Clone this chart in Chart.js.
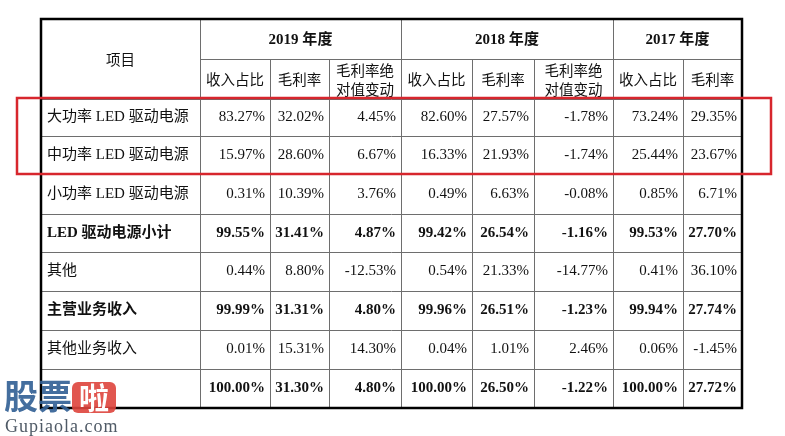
<!DOCTYPE html>
<html><head><meta charset="utf-8">
<script src="https://cdn.jsdelivr.net/npm/chart.js@4.4.1/dist/chart.umd.min.js"></script>
<style>html,body{margin:0;padding:0;background:#fff;}#wrap{width:785px;height:436px;position:relative;}</style>
</head><body><div id="wrap"><canvas id="c"></canvas></div>
<script>
// ---- data ----
const rowLabels = ['大功率 LED 驱动电源','中功率 LED 驱动电源','小功率 LED 驱动电源','LED 驱动电源小计','其他','主营业务收入','其他业务收入',''];
const boldRows = [false,false,false,true,false,true,false,true];
const yearHeaders = ['2019 年度','2018 年度','2017 年度'];
const subHeaders = ['收入占比','毛利率','毛利率绝\n对值变动','收入占比','毛利率','毛利率绝\n对值变动','收入占比','毛利率'];
const itemHeader = '项目';
const share2019  = [83.27,15.97,0.31,99.55,0.44,99.99,0.01,100.00];
const margin2019 = [32.02,28.60,10.39,31.41,8.80,31.31,15.31,31.30];
const change2019 = [4.45,6.67,3.76,4.87,-12.53,4.80,14.30,4.80];
const share2018  = [82.60,16.33,0.49,99.42,0.54,99.96,0.04,100.00];
const margin2018 = [27.57,21.93,6.63,26.54,21.33,26.51,1.01,26.50];
const change2018 = [-1.78,-1.74,-0.08,-1.16,-14.77,-1.23,2.46,-1.22];
const share2017  = [73.24,25.44,0.85,99.53,0.41,99.94,0.06,100.00];
const margin2017 = [29.35,23.67,6.71,27.70,36.10,27.74,-1.45,27.72];
const highlightRows = [0,1];

// ---- layout (scale units) ----
const colEdges = [41,200,270,329,401,472,534,613,683,742];
const headTop = 19, headMid = 59, headBottom = 99;
const rowEdges = [99,136,174,214,252,291,330,369,408];
const yearSpans = [[1,4],[4,7],[7,9]];
const columns = [share2019,margin2019,change2019,share2018,margin2018,change2018,share2017,margin2017];

const SERIF = '"Liberation Serif","Noto Sans CJK SC",serif';
const CJK = '"Noto Sans CJK SC","Liberation Serif",sans-serif';

const tablePlugin = {
  id:'table',
  afterDatasetsDraw(chart){
    const ctx = chart.ctx, xs = chart.scales.x, ys = chart.scales.y;
    const X = v => xs.getPixelForValue(v), Y = v => ys.getPixelForValue(v);
    ctx.save();
    ctx.strokeStyle = '#6e6e6e'; ctx.lineWidth = 1;
    const hline=(y,x1,x2)=>{ctx.beginPath();const py=Math.round(Y(y))+0.5;ctx.moveTo(X(x1),py);ctx.lineTo(X(x2),py);ctx.stroke();};
    const vline=(x,y1,y2)=>{ctx.beginPath();const px=Math.round(X(x))+0.5;ctx.moveTo(px,Y(y1));ctx.lineTo(px,Y(y2));ctx.stroke();};
    hline(headMid, colEdges[1], colEdges[9]);
    rowEdges.slice(0,-1).forEach(r=>hline(r, colEdges[0], colEdges[9]));
    for(let i=1;i<9;i++){
      const isYearEdge = (i===1||i===4||i===7);
      vline(colEdges[i], isYearEdge?headTop:headMid, rowEdges[rowEdges.length-1]);
    }
    ctx.strokeStyle = '#000'; ctx.lineWidth = 2.5;
    ctx.strokeRect(X(colEdges[0]), Y(headTop), X(colEdges[9])-X(colEdges[0]), Y(rowEdges[rowEdges.length-1])-Y(headTop));
    ctx.fillStyle = '#111'; ctx.textBaseline = 'middle';
    ctx.textAlign = 'center';
    ctx.font = '14.5px '+CJK;
    ctx.fillText(itemHeader, (X(colEdges[0])+X(colEdges[1]))/2, (Y(headTop)+Y(headBottom))/2);
    ctx.font = 'bold 15px '+SERIF;
    yearHeaders.forEach((t,i)=>{
      const [a,b] = yearSpans[i];
      ctx.fillText(t, (X(colEdges[a])+X(colEdges[b]))/2, (Y(headTop)+Y(headMid))/2+1);
    });
    ctx.font = '14.5px '+CJK;
    subHeaders.forEach((t,i)=>{
      const cx = (X(colEdges[i+1])+X(colEdges[i+2]))/2, cy = (Y(headMid)+Y(headBottom))/2;
      const parts = t.split('\n');
      if(parts.length===1) ctx.fillText(t, cx, cy);
      else { ctx.fillText(parts[0], cx, cy-9); ctx.fillText(parts[1], cx, cy+10); }
    });
    rowLabels.forEach((lab,r)=>{
      const cy = (Y(rowEdges[r])+Y(rowEdges[r+1]))/2;
      ctx.textAlign = 'left';
      ctx.font = (boldRows[r]?'bold ':'')+'15px '+SERIF;
      ctx.fillText(lab, X(colEdges[0])+6, cy);
      ctx.textAlign = 'right';
      columns.forEach((col,c)=>{
        ctx.fillText(col[r].toFixed(2)+'%', X(colEdges[c+2])-5, cy);
      });
    });
    ctx.strokeStyle = '#d7262d'; ctx.lineWidth = 2.5;
    const r0 = highlightRows[0], r1 = highlightRows[highlightRows.length-1]+1;
    ctx.strokeRect(X(17), Y(rowEdges[r0])-1, X(771)-X(17), Y(rowEdges[r1])-Y(rowEdges[r0])+1);
    // watermark
    ctx.textAlign = 'left'; ctx.textBaseline = 'alphabetic';
    ctx.font = 'bold 34px '+CJK;
    ctx.fillStyle = 'rgba(52,98,150,0.92)';
    ctx.fillText('股票', X(4), Y(409));
    ctx.fillStyle = 'rgba(222,68,60,0.9)';
    const rx = X(72), ry = Y(382), rw = 44, rh = 31, rad = 6;
    ctx.beginPath(); ctx.roundRect(rx, ry, rw, rh, rad); ctx.fill();
    ctx.fillStyle = '#fff'; ctx.font = 'bold 30px '+CJK;
    ctx.fillText('啦', rx+7, ry+27);
    ctx.fillStyle = '#4f5a66'; ctx.font = '18px '+SERIF;
    ctx.letterSpacing = '1px';
    ctx.fillText('Gupiaola.com', X(5), Y(432));
    ctx.restore();
  }
};

new Chart(document.getElementById('c'), {
  type:'scatter',
  data:{datasets:[{data:[], pointRadius:0}]},
  options:{
    responsive:true, maintainAspectRatio:false, animation:false,
    layout:{padding:0},
    plugins:{legend:{display:false}, tooltip:{enabled:false}},
    scales:{
      x:{type:'linear', min:0, max:785, display:false},
      y:{type:'linear', min:0, max:436, reverse:true, display:false}
    }
  },
  plugins:[tablePlugin]
});
</script></body></html>
